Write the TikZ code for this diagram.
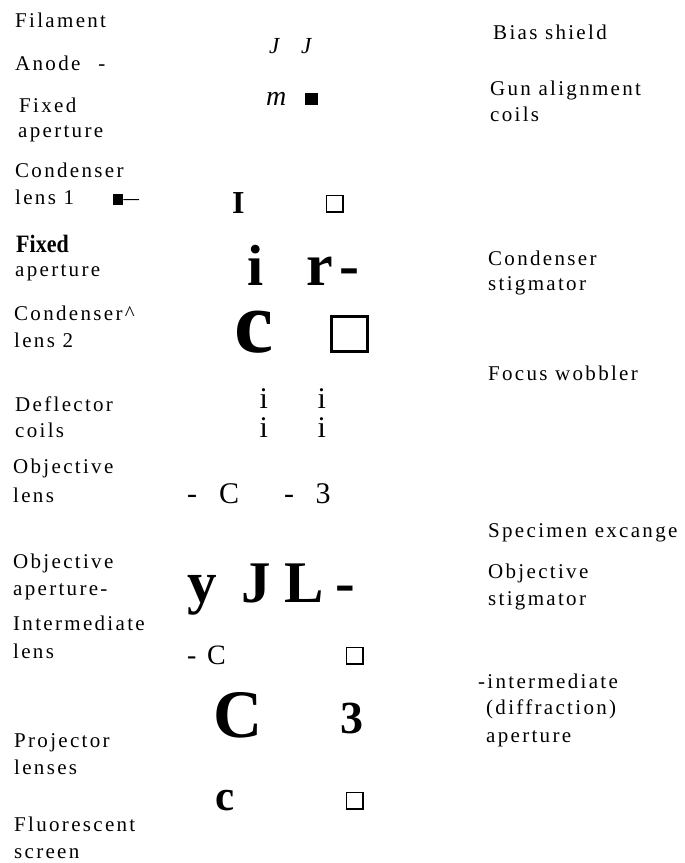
\documentclass[tikz,border=0pt]{standalone}
\usepackage{fontspec}
\setmainfont{Liberation Serif}
\newfontfamily\labfont{Liberation Serif}[LetterSpace=11]
\begin{document}
\begin{tikzpicture}[x=1pt,y=-1pt,
  lab/.style={anchor=base west, inner sep=0pt, font=\labfont\fontsize{21}{24}\selectfont},
  gl/.style={anchor=base west, inner sep=0pt},
  sq/.style={draw, line width=1.2pt, minimum width=16.8pt, minimum height=16.8pt, inner sep=0pt, anchor=north west},
  blk/.style={fill, inner sep=0pt, anchor=north west}]
\useasboundingbox (0,0) rectangle (685,863);
% left labels
\node[lab] (fil) at (15,27) {Filament};
\node[lab] (ano) at (15,70) {Anode\hspace*{18pt}-};
\node[lab] (fa1) at (19,112) {Fixed};
\node[lab] (fa2) at (18,137) {aperture};
\node[lab] (c11) at (15,177) {Condenser};
\node[lab] (c12) at (15,204) {lens 1};
\node[gl, font=\bfseries\fontsize{25}{27}\selectfont] (fb1) at (16,252) {\scalebox{0.88}[1]{Fixed}};
\node[lab] (fb2) at (15,276) {aperture};
\node[lab] (c21) at (14,320) {Condenser\^{}};
\node[lab] (c22) at (14,347) {lens 2};
\node[lab] (de1) at (15,411) {Deflector};
\node[lab] (de2) at (15,437) {coils};
\node[lab] (ob1) at (13,473) {Objective};
\node[lab] (ob2) at (13,502) {lens};
\node[lab] (oa1) at (13,568) {Objective};
\node[lab] (oa2) at (13,595) {aperture-};
\node[lab] (in1) at (13,630) {Intermediate};
\node[lab] (in2) at (13,658) {lens};
\node[lab] (pr1) at (14,747) {Projector};
\node[lab] (pr2) at (14,774) {lenses};
\node[lab] (fl1) at (14,831) {Fluorescent};
\node[lab] (fl2) at (14,858) {screen};
% right labels
\node[lab] (bia) at (493,39) {Bias shield};
\node[lab] (gu1) at (490,95) {Gun alignment};
\node[lab] (gu2) at (490,121) {coils};
\node[lab] (cs1) at (488,265) {Condenser};
\node[lab] (cs2) at (488,290) {stigmator};
\node[lab] (foc) at (488,380) {Focus wobbler};
\node[lab] (spe) at (488,537) {Specimen excange};
\node[lab] (os1) at (488,578) {Objective};
\node[lab] (os2) at (488,605) {stigmator};
\node[lab] (ia1) at (478,688) {-intermediate};
\node[lab] (ia2) at (486,714) {(diffraction)};
\node[lab] (ia3) at (486,742) {aperture};
% central glyphs
\node[gl, font=\itshape\fontsize{23}{25}\selectfont] (j1) at (269,53) {J};
\node[gl, font=\itshape\fontsize{23}{25}\selectfont] (j2) at (301,53) {J};
\node[gl, font=\itshape\fontsize{28}{30}\selectfont] (m1) at (266,105) {m};
\node[blk, minimum width=13pt, minimum height=12pt] (b1) at (305,93) {};
\node[blk, minimum width=10pt, minimum height=11pt] (b2) at (113,194) {};
\coordinate (b2e) at (139,199.5);
\draw[line width=1pt] (b2.east) -- (b2e);
\node[gl, font=\bfseries\fontsize{32}{34}\selectfont] (g1) at (232,213) {I};
\node[sq] (s1) at (325.6,194.6) {};
\node[gl, font=\bfseries\fontsize{58}{60}\selectfont, text depth=0pt] (g2) at (247,285) {i};
\node[gl, font=\bfseries\fontsize{60}{62}\selectfont, text depth=0pt] (g3) at (306,285) {r};
\node[gl, font=\bfseries\fontsize{60}{62}\selectfont, text depth=0pt] (g4) at (339.5,285) {-};
\node[gl, font=\bfseries\fontsize{88}{90}\selectfont, text height=42pt] (g5) at (234,352) {c};
\node[sq, line width=3pt, minimum width=36pt, minimum height=35pt] (s2) at (329.5,314.5) {};
\node[gl, font=\fontsize{30}{32}\selectfont, text depth=0pt] (i1) at (259.5,408) {i};
\node[gl, font=\fontsize{30}{32}\selectfont, text depth=0pt] (i2) at (317.5,408) {i};
\node[gl, font=\fontsize{30}{32}\selectfont, text height=21pt] (i3) at (259.5,437) {i};
\node[gl, font=\fontsize{30}{32}\selectfont, text height=21pt] (i4) at (317.5,437) {i};
\node[gl, font=\fontsize{30}{32}\selectfont] (h1) at (187,503) {-};
\node[gl, font=\fontsize{30}{32}\selectfont] (k1) at (219,503) {C};
\node[gl, font=\fontsize{30}{32}\selectfont] (h2) at (284,503) {-};
\node[gl, font=\fontsize{30}{32}\selectfont] (t1) at (315.5,503) {3};
\node[gl, font=\bfseries\fontsize{59}{61}\selectfont] (y1) at (187,602) {y};
\node[gl, font=\bfseries\fontsize{59}{61}\selectfont] (y2) at (241,602) {J};
\node[gl, font=\bfseries\fontsize{59}{61}\selectfont] (y3) at (284,602) {L};
\node[gl, font=\bfseries\fontsize{59}{61}\selectfont] (y4) at (335,602) {-};
\node[gl, font=\fontsize{28}{30}\selectfont] (h3) at (187,664) {-};
\node[gl, font=\fontsize{28}{30}\selectfont] (k2) at (207,664) {C};
\node[sq] (s3) at (345.6,646.6) {};
\node[gl, font=\bfseries\fontsize{68}{70}\selectfont] (k3) at (213,737) {C};
\node[gl, font=\bfseries\fontsize{46}{48}\selectfont] (t2) at (340.5,733) {3};
\node[gl, font=\bfseries\fontsize{43}{45}\selectfont] (k4) at (215,810) {c};
\node[sq] (s4) at (345.6,791.6) {};
\end{tikzpicture}
\end{document}
